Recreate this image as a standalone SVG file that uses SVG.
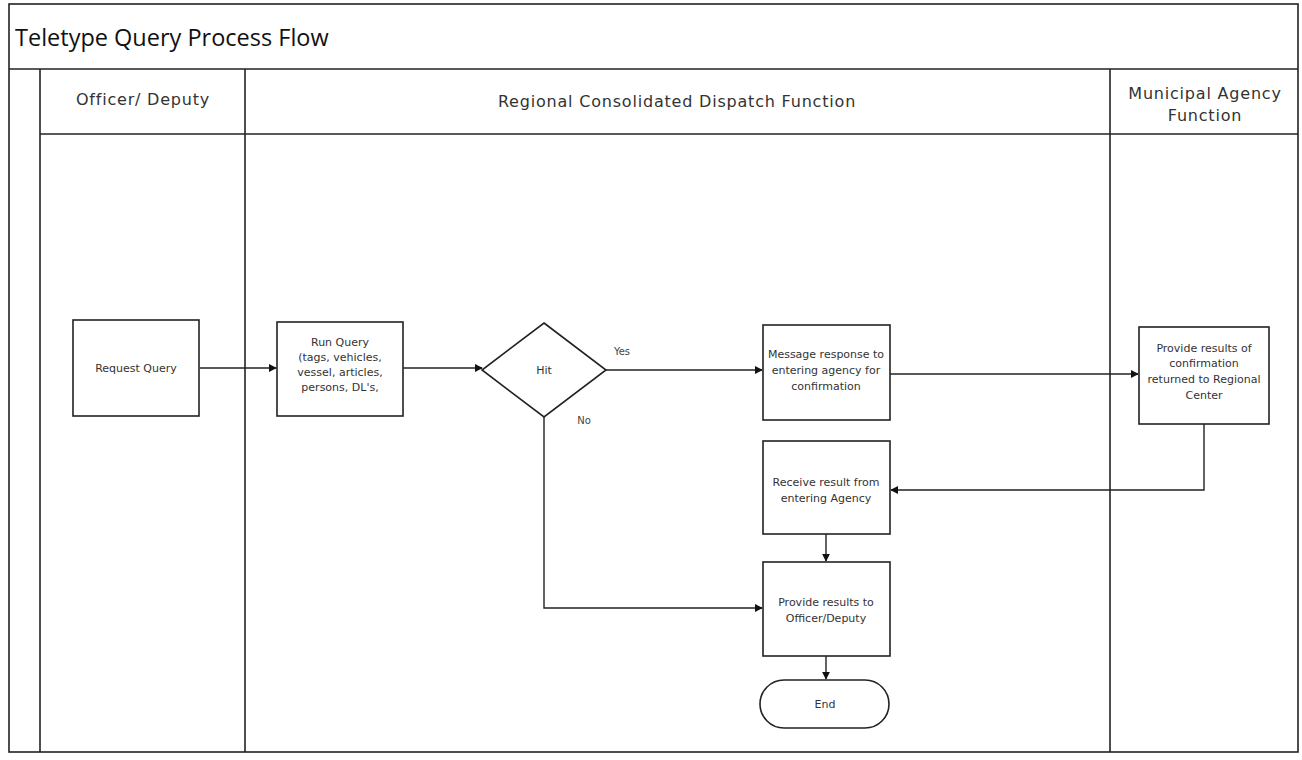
<svg xmlns="http://www.w3.org/2000/svg" width="1302" height="760" viewBox="0 0 1302 760">
<defs>
<style>
.frame{fill:none;stroke:#222;stroke-width:1.6}
.box{fill:#fff;stroke:#222;stroke-width:1.6}
.conn{fill:none;stroke:#222;stroke-width:1.4}
.title{font-family:"Open Sans","Liberation Sans",sans-serif;font-size:23.5px;fill:#111}
.hdr{font-family:"DejaVu Sans","Liberation Sans",sans-serif;font-size:16px;letter-spacing:0.8px;fill:#333;text-anchor:middle}
.txt{font-family:"DejaVu Sans","Liberation Sans",sans-serif;font-size:11px;fill:#333;text-anchor:middle}
.lbl{font-family:"DejaVu Sans","Liberation Sans",sans-serif;font-size:10px;fill:#444;text-anchor:middle}
</style>
<marker id="ah" viewBox="0 0 10 10" refX="9" refY="5" markerWidth="8" markerHeight="8" markerUnits="userSpaceOnUse" orient="auto">
<path d="M0,0 L10,5 L0,10 z" fill="#111"/>
</marker>
</defs>
<rect width="1302" height="760" fill="#fff"/>
<g id="pool">
<rect class="frame" x="9" y="4" width="1289" height="748"/>
<line class="frame" x1="9" y1="69" x2="1298" y2="69"/>
<line class="frame" x1="40" y1="69" x2="40" y2="752"/>
<line class="frame" x1="40" y1="134" x2="1298" y2="134"/>
<line class="frame" x1="245" y1="69" x2="245" y2="752"/>
<line class="frame" x1="1110" y1="69" x2="1110" y2="752"/>
<text class="title" x="15" y="46">Teletype Query Process Flow</text>
</g>
<g id="lane-officer"><text class="hdr" x="143" y="105">Officer/ Deputy</text></g>
<g id="lane-regional"><text class="hdr" x="677" y="107">Regional Consolidated Dispatch Function</text></g>
<g id="lane-municipal"><text class="hdr" x="1205" y="99">Municipal Agency</text><text class="hdr" x="1205" y="121">Function</text></g>
<g id="connectors">
<path class="conn" d="M200,368 H276" marker-end="url(#ah)"/>
<path class="conn" d="M403,368 H482" marker-end="url(#ah)"/>
<path class="conn" d="M606,370 H762" marker-end="url(#ah)"/>
<path class="conn" d="M890,374 H1138" marker-end="url(#ah)"/>
<path class="conn" d="M1204,424 V490 H891" marker-end="url(#ah)"/>
<path class="conn" d="M826,534 V561" marker-end="url(#ah)"/>
<path class="conn" d="M544,417 V608 H762" marker-end="url(#ah)"/>
<path class="conn" d="M826,656 V679" marker-end="url(#ah)"/>
<text class="lbl" x="622" y="355">Yes</text>
<text class="lbl" x="584" y="424">No</text>
</g>
<g id="request-query">
<rect class="box" x="73" y="320" width="126" height="96"/>
<text class="txt" x="136" y="372">Request Query</text>
</g>
<g id="run-query">
<rect class="box" x="277" y="322" width="126" height="94"/>
<text class="txt" x="340" y="346">Run Query</text>
<text class="txt" x="340" y="361">(tags, vehicles,</text>
<text class="txt" x="340" y="376">vessel, articles,</text>
<text class="txt" x="340" y="391">persons, DL's,</text>
</g>
<g id="hit">
<path class="box" d="M544,323 L606,370 L544,417 L482,370 Z"/>
<text class="txt" x="544" y="374">Hit</text>
</g>
<g id="message-response">
<rect class="box" x="763" y="325" width="127" height="95"/>
<text class="txt" x="826" y="358">Message response to</text>
<text class="txt" x="826" y="374">entering agency for</text>
<text class="txt" x="826" y="390">confirmation</text>
</g>
<g id="provide-confirmation">
<rect class="box" x="1139" y="327" width="130" height="97"/>
<text class="txt" x="1204" y="352">Provide results of</text>
<text class="txt" x="1204" y="367">confirmation</text>
<text class="txt" x="1204" y="383">returned to Regional</text>
<text class="txt" x="1204" y="399">Center</text>
</g>
<g id="receive-result">
<rect class="box" x="763" y="441" width="127" height="93"/>
<text class="txt" x="826" y="486">Receive result from</text>
<text class="txt" x="826" y="502">entering Agency</text>
</g>
<g id="provide-results">
<rect class="box" x="763" y="562" width="127" height="94"/>
<text class="txt" x="826" y="606">Provide results to</text>
<text class="txt" x="826" y="622">Officer/Deputy</text>
</g>
<g id="end">
<rect class="box" x="760" y="680" width="129" height="48" rx="24" ry="24"/>
<text class="txt" x="825" y="708">End</text>
</g>
</svg>
